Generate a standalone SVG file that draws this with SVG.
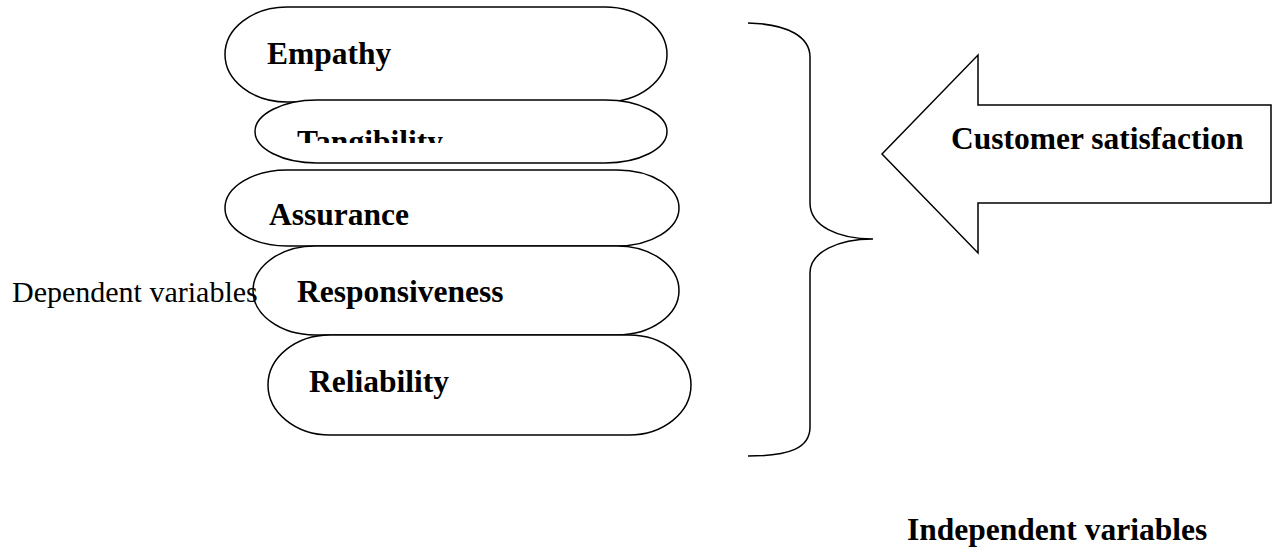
<svg xmlns="http://www.w3.org/2000/svg" width="1277" height="550" viewBox="0 0 1277 550">
<style>
.shape{fill:#fff;stroke:#000;stroke-width:1.5}
.line{fill:none;stroke:#000;stroke-width:1.5}
.lbl{font-family:"Liberation Serif","Times New Roman",serif;font-weight:bold;font-size:31.5px;fill:#000}
.reg{font-family:"Liberation Serif","Times New Roman",serif;font-size:30px;fill:#000}
</style>
<defs>
<clipPath id="clipT"><rect x="250" y="99" width="420" height="44"/></clipPath>
</defs>
<rect width="1277" height="550" fill="#fff"/>
<g id="empathy">
<rect class="shape" x="225" y="7" width="442" height="95" rx="62" ry="47.5"/>
<text class="lbl" x="267" y="64">Empathy</text>
</g>
<g id="tangibility">
<rect class="shape" x="255" y="100" width="412" height="63" rx="62" ry="31.5"/>
<text class="lbl" x="297" y="152" clip-path="url(#clipT)">Tangibility</text>
</g>
<g id="assurance">
<rect class="shape" x="225" y="170" width="454" height="76" rx="62" ry="38"/>
<text class="lbl" x="269" y="225">Assurance</text>
</g>
<g id="responsiveness">
<rect class="shape" x="253" y="246" width="426" height="89" rx="62" ry="44.5"/>
<text class="lbl" x="297" y="302">Responsiveness</text>
</g>
<g id="reliability">
<rect class="shape" x="268" y="335" width="423" height="100" rx="62" ry="50"/>
<text class="lbl" x="309" y="392">Reliability</text>
</g>
<g id="dependent">
<text class="reg" x="12" y="302">Dependent variables</text>
</g>
<g id="connectors">
<path id="brace" class="line" d="M748,23 C790,24 810,38 810,57 L810,203 C810,226 838,239 873,239 C838,239 810,252 810,273 L810,427 C810,448 790,456 748,456"/>
</g>
<g id="customer-satisfaction">
<path class="shape" d="M882,154 L978,55 L978,105 L1271,105 L1271,203 L978,203 L978,253 Z"/>
<text class="lbl" x="951" y="149">Customer satisfaction</text>
</g>
<g id="independent">
<text class="lbl" x="907" y="540">Independent variables</text>
</g>
</svg>
